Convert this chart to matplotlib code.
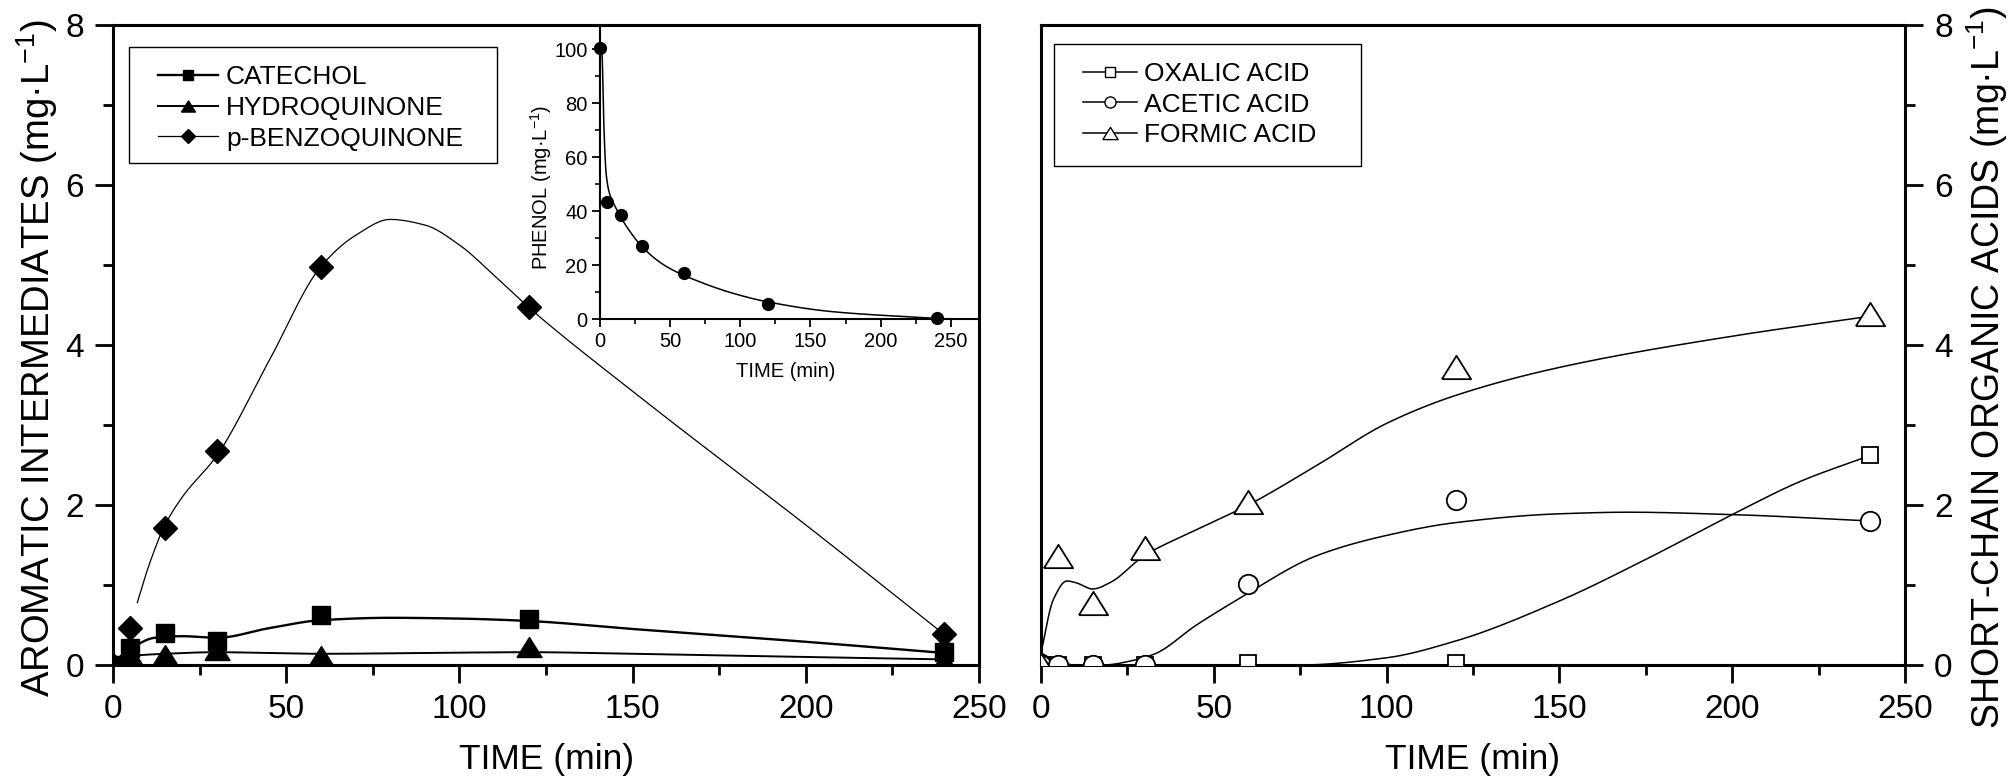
import numpy as np
import matplotlib
matplotlib.use("Agg")
import matplotlib.pyplot as plt
from matplotlib.lines import Line2D
from matplotlib.patches import Rectangle
from matplotlib.ticker import MultipleLocator

plt.rcParams['font.family'] = ['Liberation Sans', 'DejaVu Sans']
plt.rcParams['mathtext.fontset'] = 'custom'
plt.rcParams['mathtext.rm'] = 'Liberation Sans'
plt.rcParams['mathtext.it'] = 'Liberation Sans:italic'
plt.rcParams['mathtext.default'] = 'regular'

# sampling times (min)
time = [0, 5, 15, 30, 60, 120, 240]

# aromatic intermediates (mg/L)
catechol = [0.0, 0.21, 0.40, 0.30, 0.62, 0.57, 0.16]
hydroquinone = [0.0, 0.12, 0.13, 0.19, 0.11, 0.22, 0.05]
benzoquinone = [0.0, 0.46, 1.71, 2.67, 4.98, 4.47, 0.39]

# short-chain acids (mg/L)
oxalic = [0.0, 0.0, 0.0, 0.0, 0.02, 0.02, 2.62]
acetic = [0.0, 0.0, 0.0, 0.0, 1.01, 2.06, 1.80]
formic = [0.0, 1.36, 0.78, 1.46, 2.04, 3.73, 4.39]

# phenol decay (inset)
phenol = [100.5, 43.3, 38.7, 27.2, 16.9, 5.7, 0.5]

# smoothed fit curves (knots)
cat_fit_t = [0, 5, 12, 20, 30, 45, 60, 80, 100, 120, 150, 200, 240]
cat_fit_v = [0.03, 0.2, 0.34, 0.36, 0.34, 0.46, 0.56, 0.59, 0.58, 0.55, 0.45, 0.29, 0.15]
hq_fit_t = [0, 5, 15, 30, 45, 60, 90, 120, 150, 200, 240]
hq_fit_v = [0.02, 0.11, 0.14, 0.16, 0.15, 0.14, 0.15, 0.16, 0.14, 0.10, 0.07]
bq_fit_t = [7, 10, 15, 20, 30, 45, 60, 70, 80, 90, 100, 110, 120, 150, 200, 240]
bq_fit_v = [0.78, 1.2, 1.75, 2.1, 2.62, 3.8, 4.98, 5.37, 5.57, 5.5, 5.25, 4.87, 4.47, 3.42, 1.75, 0.38]

ox_fit_t = [0, 5, 10, 30, 60, 75, 100, 120, 150, 175, 200, 220, 240]
ox_fit_v = [0.15, 0.03, 0.0, 0.0, 0.0, 0.0, 0.09, 0.3, 0.8, 1.32, 1.88, 2.3, 2.62]
ac_fit_t = [0, 5, 10, 18, 27, 33, 45, 57, 80, 100, 120, 150, 170, 200, 240]
ac_fit_v = [0.15, 0.04, 0.0, 0.0, 0.06, 0.14, 0.5, 0.82, 1.37, 1.62, 1.78, 1.89, 1.91, 1.88, 1.80]
fo_fit_t = [0, 3.6, 7.5, 10, 15, 20, 30, 45, 60, 80, 100, 120, 150, 200, 240]
fo_fit_v = [0.15, 0.82, 1.05, 1.03, 0.95, 1.03, 1.37, 1.69, 2.0, 2.5, 3.02, 3.37, 3.72, 4.11, 4.36]

ph_fit_t = [0, 1.2, 2.9, 4.3, 6.7, 10.7, 19, 31, 47.5, 71, 95, 119, 166, 240]
ph_fit_v = [101, 99.7, 68.8, 54, 46.6, 41.7, 34.2, 26.2, 19.4, 13.8, 9.5, 6.4, 2.7, 0.2]


def pchip(x, y, xn):
    # monotone cubic hermite through the knots
    x = np.asarray(x, float)
    y = np.asarray(y, float)
    h = np.diff(x)
    d = np.diff(y) / h
    m = np.zeros_like(y)
    m[0], m[-1] = d[0], d[-1]
    for k in range(1, len(x) - 1):
        if d[k - 1] * d[k] > 0:
            w1 = 2 * h[k] + h[k - 1]
            w2 = h[k] + 2 * h[k - 1]
            m[k] = (w1 + w2) / (w1 / d[k - 1] + w2 / d[k])
    i = np.clip(np.searchsorted(x, xn) - 1, 0, len(h) - 1)
    s = (xn - x[i]) / h[i]
    h00 = 2 * s**3 - 3 * s**2 + 1
    h10 = s**3 - 2 * s**2 + s
    h01 = -2 * s**3 + 3 * s**2
    h11 = s**3 - s**2
    return h00 * y[i] + h10 * h[i] * m[i] + h01 * y[i + 1] + h11 * h[i] * m[i + 1]


def fit_line(ax, kt, kv, lw):
    tt = np.linspace(kt[0], kt[-1], 600)
    ax.plot(tt, pchip(kt, kv, tt), color='k', lw=lw, zorder=2)


# wide triangle marker
tri = [(-1, -0.8), (1, -0.8), (0, 0.8), (-1, -0.8)]


def style_axis(ax, fs):
    ax.set_xlim(0, 250)
    ax.set_ylim(0, 8)
    ax.xaxis.set_major_locator(MultipleLocator(50))
    ax.xaxis.set_minor_locator(MultipleLocator(25))
    ax.yaxis.set_major_locator(MultipleLocator(2))
    ax.yaxis.set_minor_locator(MultipleLocator(1))
    ax.tick_params(which='major', direction='out', length=13, width=2, labelsize=fs, pad=8)
    ax.tick_params(which='minor', direction='out', length=7, width=2)
    for sp in ax.spines.values():
        sp.set_linewidth(2.2)


def boxed_legend(ax, handles, labels, anchor, hlen, hpad, frame):
    leg = ax.legend(handles, labels, loc='upper left', bbox_to_anchor=anchor,
                    borderaxespad=0, borderpad=0, fontsize=19, numpoints=1,
                    handlelength=hlen, handletextpad=hpad, labelspacing=0.25,
                    frameon=False)
    x0, y0, x1, y1 = frame
    ax.add_patch(Rectangle((x0, y0), x1 - x0, y1 - y0, transform=ax.transAxes,
                           fill=False, ec='k', lw=1.0, zorder=5, clip_on=False))
    return leg


fig = plt.figure(figsize=(20.15, 7.84), dpi=100)
ax1 = fig.add_axes([0.0561, 0.1518, 0.4298, 0.8163])
ax2 = fig.add_axes([0.5166, 0.1518, 0.4288, 0.8163])

# ---- left: aromatic intermediates
style_axis(ax1, 24)
ax1.tick_params(top=False, right=False, which='both')

fit_line(ax1, cat_fit_t, cat_fit_v, 1.7)
fit_line(ax1, hq_fit_t, hq_fit_v, 1.4)
fit_line(ax1, bq_fit_t, bq_fit_v, 0.9)
ax1.plot(time, hydroquinone, ls='none', marker=tri, ms=18, color='k', zorder=3)
ax1.plot(time, catechol, ls='none', marker='s', ms=13, color='k', zorder=3)
ax1.plot(time, benzoquinone, ls='none', marker='D', ms=12.5, color='k', zorder=3)

ax1.set_xlabel('TIME (min)', fontsize=25.5, va='center')
ax1.xaxis.set_label_coords(0.5, -0.148)
ax1.set_ylabel('AROMATIC INTERMEDIATES (mg·L$^{-1}$)', fontsize=27.5, va='center')
ax1.yaxis.set_label_coords(-0.088, 0.48)

h1 = [Line2D([], [], color='k', lw=1.7, marker='s', ms=7),
      Line2D([], [], color='k', lw=1.4, marker=tri, ms=10),
      Line2D([], [], color='k', lw=0.9, marker='D', ms=7)]
boxed_legend(ax1, h1, ['CATECHOL', 'HYDROQUINONE', 'p-BENZOQUINONE'],
             (0.052, 0.937), 2.27, 0.3, (0.0185, 0.784, 0.4434, 0.9656))

# ---- inset: phenol
axi = fig.add_axes([0.2978, 0.5931, 0.1876, 0.375])
axi.set_xlim(0, 269.5)
axi.set_ylim(0, 109)
axi.patch.set_alpha(0)
axi.spines['top'].set_visible(False)
axi.spines['right'].set_visible(False)
for sp in ('left', 'bottom'):
    axi.spines[sp].set_linewidth(1.5)
axi.xaxis.set_major_locator(MultipleLocator(50))
axi.xaxis.set_minor_locator(MultipleLocator(25))
axi.yaxis.set_major_locator(MultipleLocator(20))
axi.yaxis.set_minor_locator(MultipleLocator(10))
axi.tick_params(which='major', direction='out', length=6, width=1.3, labelsize=14.5, pad=3)
axi.tick_params(which='minor', direction='out', length=3.5, width=1.2)
tt = np.linspace(ph_fit_t[0], ph_fit_t[-1], 800)
axi.plot(tt, pchip(ph_fit_t, ph_fit_v, tt), color='k', lw=1.1, zorder=2)
axi.plot(time, phenol, ls='none', marker='o', ms=8.5, color='k', zorder=3, clip_on=False)
axi.set_xlabel('TIME (min)', fontsize=14.5, va='center')
axi.xaxis.set_label_coords(0.492, -0.18)
axi.set_ylabel('PHENOL (mg·L$^{-1}$)', fontsize=14.5, va='center')
axi.yaxis.set_label_coords(-0.156, 0.447)

# ---- right: short-chain organic acids
style_axis(ax2, 24)
ax2.yaxis.tick_right()
ax2.yaxis.set_label_position('right')
ax2.tick_params(top=False, left=False, which='both')

fit_line(ax2, ox_fit_t, ox_fit_v, 1.1)
fit_line(ax2, ac_fit_t, ac_fit_v, 1.1)
fit_line(ax2, fo_fit_t, fo_fit_v, 1.1)
mk = dict(ls='none', color='k', mfc='white', mec='k', mew=1.3, zorder=3)
ax2.plot(time, oxalic, marker='s', ms=12, **mk)
ax2.plot(time, acetic, marker='o', ms=14, **mk)
ax2.plot(time, formic, marker=tri, ms=21, **mk)

ax2.set_xlabel('TIME (min)', fontsize=25.5, va='center')
ax2.xaxis.set_label_coords(0.5, -0.148)
ax2.set_ylabel('SHORT-CHAIN ORGANIC ACIDS (mg·L$^{-1}$)', fontsize=27, va='center',
               rotation=90)
ax2.yaxis.set_label_coords(1.095, 0.465)

h2 = [Line2D([], [], color='k', lw=1.1, marker='s', ms=7, mfc='white', mew=1),
      Line2D([], [], color='k', lw=1.1, marker='o', ms=8, mfc='white', mew=1),
      Line2D([], [], color='k', lw=1.1, marker=tri, ms=11, mfc='white', mew=1)]
boxed_legend(ax2, h2, ['OXALIC ACID', 'ACETIC ACID', 'FORMIC ACID'],
             (0.0486, 0.942), 2.05, 0.27, (0.015, 0.780, 0.370, 0.970))

fig.savefig('out.png', dpi=100)
